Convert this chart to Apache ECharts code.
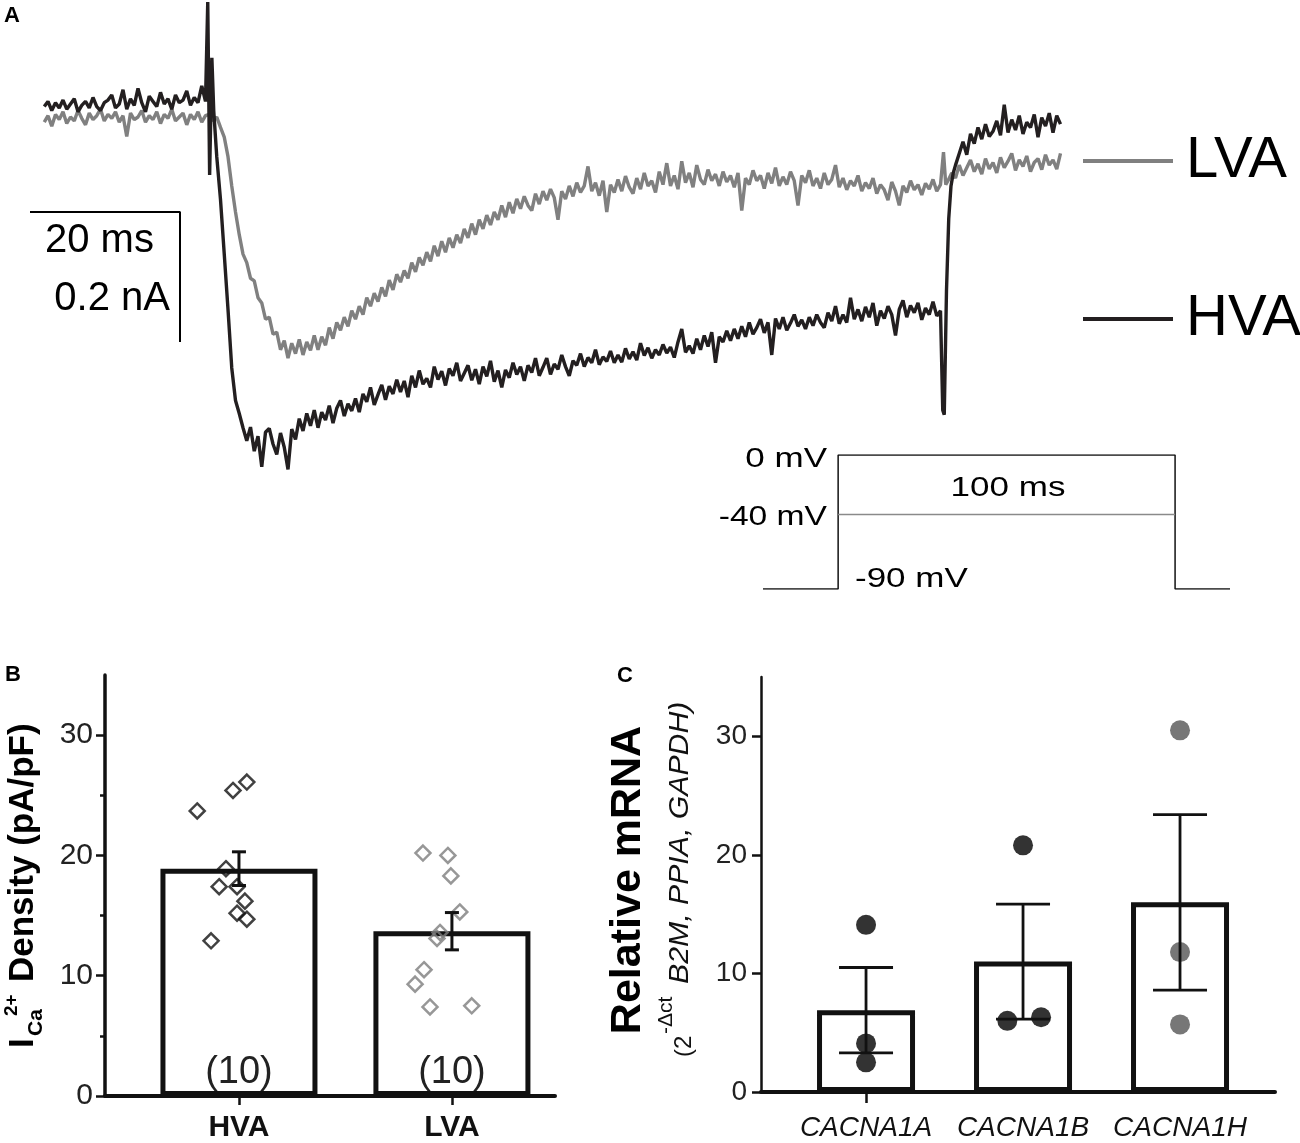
<!DOCTYPE html>
<html><head><meta charset="utf-8">
<script src="https://cdn.jsdelivr.net/npm/echarts@6/dist/echarts.min.js"></script>
<style>html,body{margin:0;padding:0;background:#fff}#c{width:1300px;height:1143px}</style>
</head><body><div id="c"></div>
<script>
// ---------- Panel A: Ca2+ current traces (time in ms, current in pA), sampled every 0.5 ms ----------
const DT = 0.5;
const hvaPre = [2,10,-4,8,0,12,-2,6,14,-6, 4,10,0,16,2,-4,8,12,20,0, 6,28,-2,14,4,30,8,-6,18,10, 2,24,6,14,-2,20,8,12,26,4, 16,8,34,10]; // t = -22 .. -0.5
const hvaOnset = [[-0.2,163],[0.05,-103],[0.35,77],[0.6,-5]];
const hvaStep = [-75,-141,-225,-310,-400,-450,-470,
 -492,-512,-491,-528,-505,-552,-499,-493,-517,-533,
 -500,-522,-556,-494,-510,-478,-497,-470,-489,-465,
 -492,-468,-480,-458,-485,-462,-450,-474,-455,-466,
 -447,-468,-440,-452,-430,-457,-441,-426,-449,-428,
 -440,-418,-437,-420,-445,-412,-430,-404,-425,-416,
 -430,-398,-418,-405,-427,-401,-412,-392,-420,-408,
 -396,-419,-402,-425,-398,-413,-389,-421,-404,-430,
 -403,-415,-392,-410,-398,-420,-396,-407,-385,-412,
 -399,-385,-410,-394,-402,-380,-398,-412,-389,-396,
 -378,-398,-384,-392,-372,-395,-383,-390,-374,-392,
 -380,-391,-370,-386,-375,-388,-362,-381,-369,-385,
 -372,-380,-364,-377,-368,-384,-360,-340,-376,-366,
 -378,-355,-372,-350,-367,-345,-392,-352,-360,-343,
 -358,-340,-355,-336,-352,-330,-348,-338,-325,-346,
 -330,-380,-324,-340,-322,-342,-331,-318,-336,-326,
 -340,-322,-335,-318,-330,-338,-315,-328,-305,-332,
 -318,-330,-292,-325,-310,-328,-306,-322,-300,-335,
 -312,-324,-305,-318,-350,-310,-296,-322,-304,-315,
 -300,-326,-308,-318,-298,-320,-312]; // t = 1.0 .. 97.5
const hvaTail = [[97.8,-465],[98.0,-472],[98.3,-280],[98.6,-170],[98.9,-120],[99.2,-100]];
const hvaPost = [-88,-70,-52,-72,-40,-55,-30,-48,-25,-44, -36,-20,-42,5,-38,-18,-34,-12,-40,-22, -30,-10,-45,-15,-28,-8,-38,-12,-25]; // t = 99.5 .. 113.5

const lvaPre = [-22,-12,-28,-10,-18,-6,-24,-14,-20,-4, -16,-26,-8,-18,-12,-2,-20,-10,-16,-6, -22,-12,-44,-8,-18,-14,-4,-22,-12,-18, -6,-24,-10,-16,-2,-20,-14,-8,-26,-10, -18,-6,-22,-12]; // t = -22 .. -0.5
const lvaStep = [-10,-20,-14,-30,-45,-75,-120,-160,-195,-225,
 -238,-262,-266,-292,-300,-325,-322,-348,-345,-372,
 -358,-385,-362,-378,-356,-380,-360,-373,-350,-372,
 -352,-365,-338,-355,-330,-342,-322,-336,-312,-325,
 -305,-318,-292,-305,-285,-298,-276,-290,-265,-280,
 -256,-268,-250,-262,-238,-252,-230,-242,-222,-236,
 -212,-228,-205,-222,-200,-215,-195,-208,-186,-200,
 -178,-195,-172,-186,-165,-180,-160,-172,-150,-168,
 -145,-162,-140,-155,-136,-150,-158,-132,-148,-128,
 -142,-125,-138,-172,-128,-140,-120,-136,-115,-130,
 -120,-90,-128,-115,-135,-112,-160,-118,-130,-110,
 -128,-105,-122,-132,-108,-125,-100,-120,-112,-130,
 -98,-118,-85,-120,-104,-125,-82,-115,-100,-122,
 -88,-110,-118,-95,-112,-102,-120,-98,-114,-104,
 -122,-100,-158,-108,-118,-96,-112,-104,-124,-100,
 -116,-92,-120,-106,-118,-98,-112,-150,-104,-115,
 -96,-120,-108,-124,-100,-118,-110,-88,-122,-108,
 -126,-112,-120,-104,-128,-115,-124,-108,-132,-118,
 -126,-142,-114,-128,-150,-120,-130,-112,-126,-118,
 -134,-116,-125,-110,-128,-118]; // t = 0 .. 97.5
const lvaTail = [[97.9,-68],[98.2,-118]];
const lvaPost = [-112,-100,-108,-88,-104,-92,-80,-98,-86,-102, -78,-94,-84,-100,-76,-92,-82,-70,-96,-80, -90,-74,-98,-84,-78,-95,-72,-88,-80,-94,-70]; // t = 98.5 .. 113.5

// scale bar: 20 ms x 0.2 nA (200 pA)
const scaleBarMs = 20, scaleBarPA = 200;
// voltage protocol (mV)
const protoHold = -90, protoStep = 0, protoTest = -40, protoDur = 100;

// ---------- Panel B ----------
const bCats = ['HVA','LVA'];
const bMean = [18.9, 13.7];
const bSem = [1.4, 1.55];
const bN = [10, 10];
const bHvaPts = [23.7,25.4,26.1,18.9,17.4,17.4,16.2,15.2,14.7,12.9];
const bHvaJit = [-0.196,-0.028,0.037,-0.061,-0.093,-0.009,0.028,-0.009,0.037,-0.131];
const bLvaPts = [20.2,20.0,18.3,15.3,13.6,13.1,10.5,9.3,7.4,7.5];
const bLvaJit = [-0.136,-0.019,-0.005,0.037,-0.056,-0.07,-0.131,-0.173,-0.103,0.093];
const bTicks = [0,10,20,30];
const bMinorTicks = [5,15,25];

// ---------- Panel C ----------
const cCats = ['CACNA1A','CACNA1B','CACNA1H'];
const cMean = [6.9, 11.0, 16.0];
const cSem = [3.6, 4.85, 7.4];
const cPts = [[14.1,4.1,2.5],[20.8,6.0,6.3],[30.5,11.8,5.7]];
const cJit = [[0,0,0],[0,-0.1,0.115],[0,0,0]];
const cTicks = [0,10,20,30];

const FF = "'Liberation Sans', Arial, Helvetica, sans-serif";
const seg = (t0, arr) => arr.map((v, i) => [t0 + i * DT, v]);
const hvaData = [].concat(seg(-22, hvaPre), hvaOnset, seg(1.0, hvaStep), hvaTail, seg(99.5, hvaPost));
const lvaData = [].concat(seg(-22, lvaPre), seg(0, lvaStep), lvaTail, seg(98.5, lvaPost));

const sbT = -23.9, sbV = -160;
const scaleBar = [[sbT, sbV], [sbT + scaleBarMs, sbV], [sbT + scaleBarMs, sbV - scaleBarPA]];
const protoLine = [[-22.3, protoHold], [0, protoHold], [0, protoStep], [protoDur, protoStep], [protoDur, protoHold], [116.3, protoHold]];
const testLine = [[0, protoTest], [protoDur, protoTest]];

function errItem(capHalf, lw) {
  return function (params, api) {
    const x = api.value(0), lo = api.value(1), hi = api.value(2);
    const a = api.coord([x, hi]), b = api.coord([x, lo]);
    const st = { stroke: '#111', lineWidth: lw };
    return { type: 'group', children: [
      { type: 'line', shape: { x1: a[0], y1: a[1], x2: b[0], y2: b[1] }, style: st },
      { type: 'line', shape: { x1: a[0] - capHalf, y1: a[1], x2: a[0] + capHalf, y2: a[1] }, style: st },
      { type: 'line', shape: { x1: b[0] - capHalf, y1: b[1], x2: b[0] + capHalf, y2: b[1] }, style: st }
    ]};
  };
}

// rotated (bottom-to-top) text piece
function vtext(txt, x, y, font, fill, sx) {
  return { type: 'text', x: x, y: y, rotation: Math.PI / 2, scaleX: sx || 1,
    style: { text: txt, font: font, fill: fill || '#000', align: 'left', verticalAlign: 'middle' } };
}

const cDots = [];
cPts.forEach((arr, i) => arr.forEach((v, j) => cDots.push({ value: [i + 1 + cJit[i][j], v], itemStyle: { color: i === 2 ? '#555555' : '#000000' } })));

const chart = echarts.init(document.getElementById('c'), null, { renderer: 'canvas' });
chart.setOption({
  animation: false,
  backgroundColor: '#fff',
  textStyle: { fontFamily: FF },
  grid: [
    { left: 0, top: 0, width: 1080, height: 470 },
    { left: 763, top: 455, width: 467, height: 134 },
    { left: 105, top: 675, width: 450, height: 422 },
    { left: 761, top: 677, width: 514, height: 415 }
  ],
  xAxis: [
    { gridIndex: 0, type: 'value', min: -27.9, max: 116.1, show: false },
    { gridIndex: 1, type: 'value', min: -22.3, max: 116.3, show: false },
    { gridIndex: 2, type: 'value', min: 0.371, max: 2.484, splitLine: { show: false },
      axisLine: { lineStyle: { color: '#111', width: 4 } },
      axisTick: { customValues: [1, 2], length: 9, lineStyle: { color: '#111', width: 2.5 } },
      axisLabel: { customValues: [1, 2], formatter: v => bCats[Math.round(v) - 1], fontSize: 30, fontWeight: 'bold', color: '#111', margin: 17, fontFamily: FF } },
    { gridIndex: 3, type: 'value', min: 0.331, max: 3.605, splitLine: { show: false },
      axisLine: { lineStyle: { color: '#111', width: 4 } },
      axisTick: { customValues: [1], length: 11, lineStyle: { color: '#111', width: 2.5 } },
      axisLabel: { customValues: [1, 2, 3], formatter: v => cCats[Math.round(v) - 1], fontSize: 28, fontStyle: 'italic', color: '#111', margin: 22, fontFamily: FF } }
  ],
  yAxis: [
    { gridIndex: 0, type: 'value', min: -557, max: 166, show: false },
    { gridIndex: 1, type: 'value', min: -90, max: 0, show: false },
    { gridIndex: 2, type: 'value', position: 'left', min: 0, max: 35, splitLine: { show: false },
      axisLine: { show: true, lineStyle: { color: '#111', width: 3.5 } },
      axisTick: { show: true, customValues: bTicks, length: 9, lineStyle: { color: '#111', width: 2.5 } },
      axisLabel: { customValues: bTicks, fontSize: 30, color: '#222', margin: 12, fontFamily: FF } },
    { gridIndex: 2, type: 'value', position: 'left', offset: 0, min: 0, max: 35, splitLine: { show: false },
      axisLine: { show: false },
      axisTick: { show: true, customValues: bMinorTicks, length: 5, lineStyle: { color: '#111', width: 2.5 } },
      axisLabel: { show: false } },
    { gridIndex: 3, type: 'value', position: 'left', min: 0, max: 35, splitLine: { show: false },
      axisLine: { show: true, lineStyle: { color: '#111', width: 2.5 } },
      axisTick: { show: true, customValues: cTicks, length: 9, lineStyle: { color: '#111', width: 2.5 } },
      axisLabel: { customValues: cTicks, fontSize: 28, color: '#222', margin: 14, fontFamily: FF } }
  ],
  legend: [
    { data: ['LVA'], left: 1083, top: 131, orient: 'vertical', icon: 'rect', itemWidth: 90, itemHeight: 4, padding: 0, selectedMode: false,
      textStyle: { fontSize: 58, lineHeight: 60, color: '#000', fontFamily: FF, padding: [0, 0, 0, 8] } },
    { data: ['HVA'], left: 1083, top: 289, orient: 'vertical', icon: 'rect', itemWidth: 90, itemHeight: 4, padding: 0, selectedMode: false,
      textStyle: { fontSize: 58, lineHeight: 60, color: '#000', fontFamily: FF, padding: [0, 0, 0, 8] } }
  ],
  series: [
    { name: 'LVA', type: 'line', xAxisIndex: 0, yAxisIndex: 0, data: lvaData, showSymbol: false, symbol: 'none', z: 2,
      lineStyle: { color: '#808080', width: 3.4 }, itemStyle: { color: '#808080' } },
    { name: 'HVA', type: 'line', xAxisIndex: 0, yAxisIndex: 0, data: hvaData, showSymbol: false, symbol: 'none', z: 3,
      lineStyle: { color: '#231f20', width: 3.4 }, itemStyle: { color: '#231f20' } },
    { name: 'scale', type: 'line', xAxisIndex: 0, yAxisIndex: 0, data: scaleBar, symbol: 'none', silent: true,
      lineStyle: { color: '#000', width: 2 } },
    { name: 'protocol', type: 'line', xAxisIndex: 1, yAxisIndex: 1, data: protoLine, symbol: 'none', silent: true,
      lineStyle: { color: '#111', width: 1.5 } },
    { name: 'test', type: 'line', xAxisIndex: 1, yAxisIndex: 1, data: testLine, symbol: 'none', silent: true,
      lineStyle: { color: '#8a8a8a', width: 1.5 } },
    { name: 'bBars', type: 'bar', xAxisIndex: 2, yAxisIndex: 2, barWidth: 157, z: 2,
      data: bMean.map((v, i) => [i + 1, v]),
      itemStyle: { color: 'rgba(255,255,255,0)', borderColor: '#111', borderWidth: 5 },
      label: { show: true, position: 'insideBottom', distance: 4, formatter: p => '(' + bN[p.dataIndex] + ')', fontSize: 38, color: '#222', fontFamily: FF } },
    { name: 'bHvaPts', type: 'scatter', xAxisIndex: 2, yAxisIndex: 2, z: 4, symbol: 'diamond', symbolSize: 15,
      data: bHvaPts.map((v, i) => [1 + bHvaJit[i], v]),
      itemStyle: { color: 'rgba(255,255,255,0)', borderColor: '#111', borderWidth: 2.5 } },
    { name: 'bLvaPts', type: 'scatter', xAxisIndex: 2, yAxisIndex: 2, z: 4, symbol: 'diamond', symbolSize: 15,
      data: bLvaPts.map((v, i) => [2 + bLvaJit[i], v]),
      itemStyle: { color: 'rgba(255,255,255,0)', borderColor: '#7d7d7d', borderWidth: 2.5 } },
    { name: 'bErr', type: 'custom', xAxisIndex: 2, yAxisIndex: 2, z: 5, renderItem: errItem(7, 3),
      encode: { x: 0, y: [1, 2] },
      data: bMean.map((m, i) => [i + 1, m - bSem[i], m + bSem[i]]) },
    { name: 'cBars', type: 'bar', xAxisIndex: 3, yAxisIndex: 4, barWidth: 98, z: 2,
      data: cMean.map((v, i) => [i + 1, v]),
      itemStyle: { color: 'rgba(255,255,255,0)', borderColor: '#111', borderWidth: 5 } },
    { name: 'cPts', type: 'scatter', xAxisIndex: 3, yAxisIndex: 4, z: 4, symbol: 'circle', symbolSize: 20, data: cDots },
    { name: 'cErr', type: 'custom', xAxisIndex: 3, yAxisIndex: 4, z: 5, renderItem: errItem(27, 2.8),
      encode: { x: 0, y: [1, 2] },
      data: cMean.map((m, i) => [i + 1, m - cSem[i], m + cSem[i]]) }
  ],
  graphic: [
    { type: 'text', x: 4, y: 5, style: { text: 'A', font: 'bold 22px ' + FF, fill: '#000', align: 'left', verticalAlign: 'top' } },
    { type: 'text', x: 5, y: 664, style: { text: 'B', font: 'bold 22px ' + FF, fill: '#000', align: 'left', verticalAlign: 'top' } },
    { type: 'text', x: 617, y: 665, style: { text: 'C', font: 'bold 22px ' + FF, fill: '#000', align: 'left', verticalAlign: 'top' } },
    { type: 'text', x: 45, y: 241, style: { text: '20 ms', font: '40px ' + FF, fill: '#000', align: 'left', verticalAlign: 'middle' } },
    { type: 'text', x: 170, y: 299, style: { text: '0.2 nA', font: '40px ' + FF, fill: '#000', align: 'right', verticalAlign: 'middle' } },
    { type: 'text', x: 827, y: 459, scaleX: 1.25, style: { text: '0 mV', font: '28px ' + FF, fill: '#000', align: 'right', verticalAlign: 'middle' } },
    { type: 'text', x: 827, y: 517, scaleX: 1.2, style: { text: '-40 mV', font: '28px ' + FF, fill: '#000', align: 'right', verticalAlign: 'middle' } },
    { type: 'text', x: 1008, y: 488, scaleX: 1.25, style: { text: '100 ms', font: '28px ' + FF, fill: '#000', align: 'center', verticalAlign: 'middle' } },
    { type: 'text', x: 855, y: 579, scaleX: 1.25, style: { text: '-90 mV', font: '28px ' + FF, fill: '#000', align: 'left', verticalAlign: 'middle' } },
    // Panel B y-axis title: I_Ca^2+ Density (pA/pF)
    vtext('I', 23, 1048, 'bold 35px ' + FF),
    vtext('Ca', 36, 1036, 'bold 21px ' + FF),
    vtext('2+', 12, 1016, 'bold 19px ' + FF),
    vtext('Density (pA/pF)', 23, 982, 'bold 35px ' + FF),
    // Panel C y-axis title
    { type: 'text', x: 628, y: 880, rotation: Math.PI / 2,
      style: { text: 'Relative mRNA', font: 'bold 43px ' + FF, fill: '#000', align: 'center', verticalAlign: 'middle' } },
    vtext('(2', 684, 1057, '24px ' + FF, '#111'),
    vtext('-\u0394ct', 666, 1034, '21px ' + FF, '#111'),
    vtext('B2M, PPIA, GAPDH)', 680, 984, 'italic 27px ' + FF, '#111', 1.12)
  ]
});
</script>
</body></html>
